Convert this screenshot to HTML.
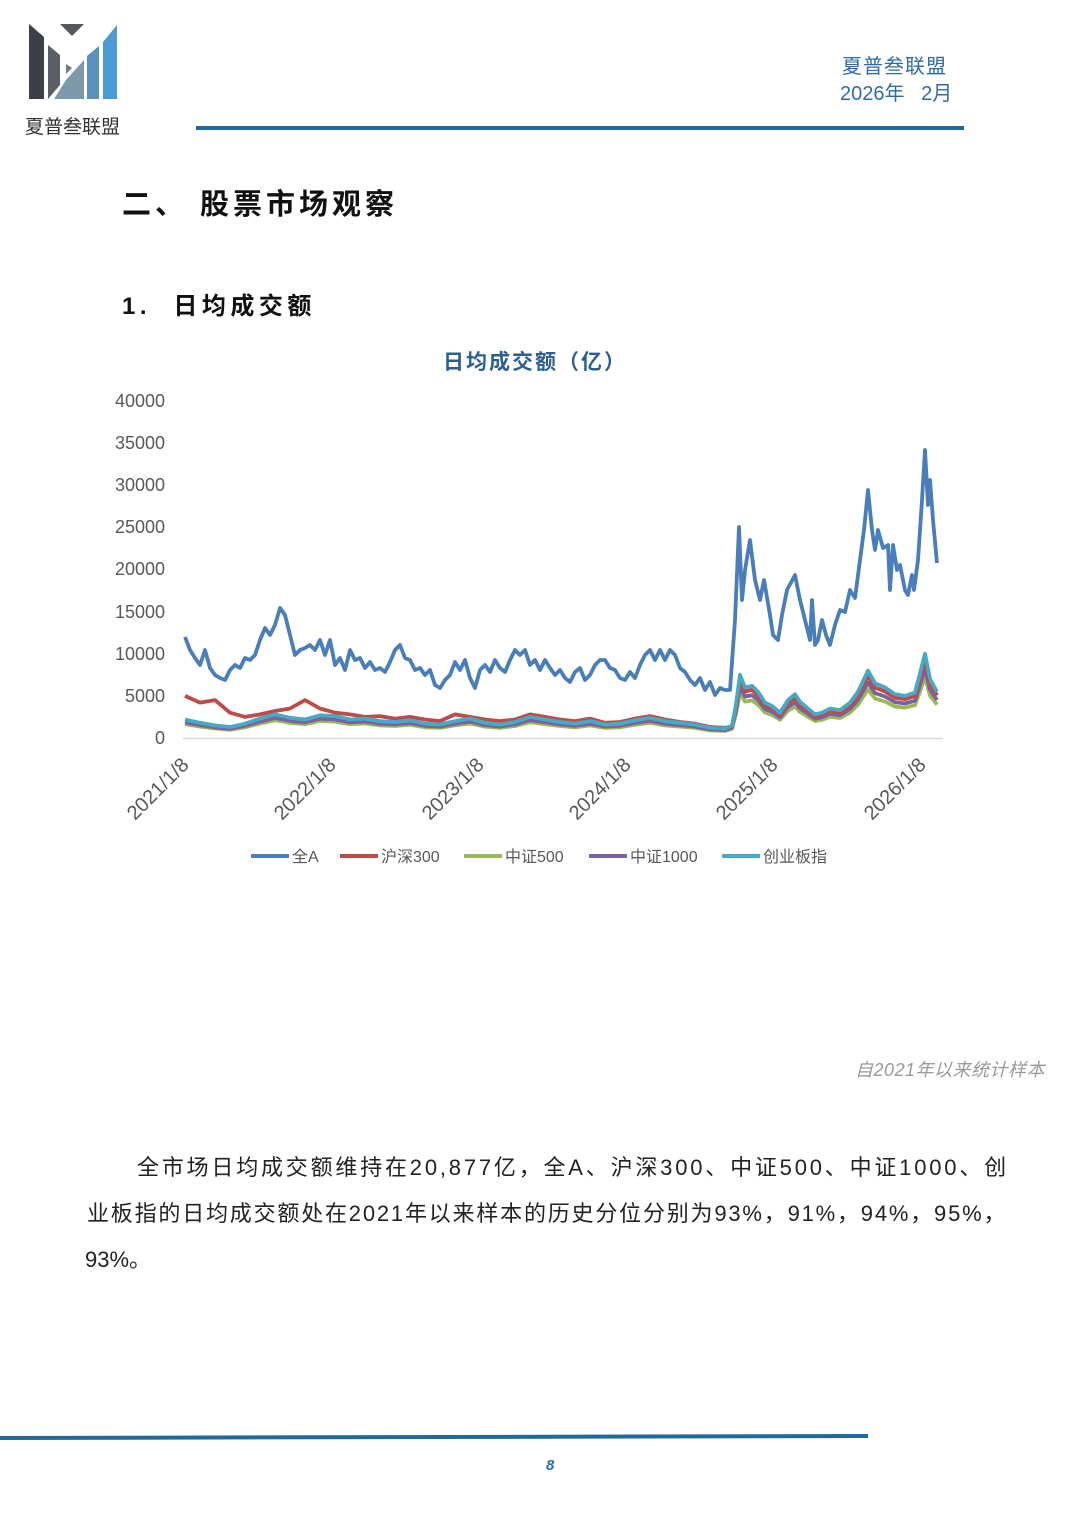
<!DOCTYPE html>
<html><head><meta charset="utf-8"><style>
body{margin:0;background:#fff;}
.p{position:relative;width:1080px;height:1528px;overflow:hidden;font-family:"Liberation Sans","Noto Sans CJK SC",sans-serif;}
.a{position:absolute;white-space:nowrap;}
</style></head><body><div class="p">
<svg class="a" style="left:0;top:0" width="1080" height="1528">
<polygon points="29,24 44,37 44,99 29,99" fill="#3a3f4a"/>
<polygon points="60,24 84,24 72,36" fill="#545860"/>
<polygon points="48,45 60,55 60,85 48,99" fill="#5a5e66"/>
<polygon points="66,64 72,68 66,74" fill="#6c7a88"/>
<polygon points="66,80 84,60 84,99 54,99" fill="#7d97ab"/>
<polygon points="87,56 99,46 99,99 87,99" fill="#5b8fbc"/>
<polygon points="103,42 117,25 117,99 103,99" fill="#4a9ad6"/>
<line x1="196" y1="128" x2="964" y2="128" stroke="#1f6a9a" stroke-width="4"/>
<line x1="0" y1="1438" x2="868" y2="1436" stroke="#1f6a9a" stroke-width="4"/>
<line x1="183" y1="738.5" x2="943" y2="738.5" stroke="#d9d9d9" stroke-width="1.5"/>
<g font-size="18" fill="#595959" text-anchor="end" font-family="Liberation Sans,sans-serif">
<text x="165" y="407">40000</text><text x="165" y="449">35000</text><text x="165" y="491">30000</text>
<text x="165" y="533">25000</text><text x="165" y="575">20000</text><text x="165" y="618">15000</text>
<text x="165" y="660">10000</text><text x="165" y="702">5000</text><text x="165" y="744">0</text>
</g>
<g font-size="20" fill="#595959" text-anchor="end" font-family="Liberation Sans,sans-serif">
<text transform="translate(190,766) rotate(-45)">2021/1/8</text>
<text transform="translate(337,766) rotate(-45)">2022/1/8</text>
<text transform="translate(485,766) rotate(-45)">2023/1/8</text>
<text transform="translate(632,766) rotate(-45)">2024/1/8</text>
<text transform="translate(779,766) rotate(-45)">2025/1/8</text>
<text transform="translate(927,766) rotate(-45)">2026/1/8</text>
</g>
<g id="series" fill="none" stroke-width="3.8" stroke-linejoin="round"></g>
<g stroke-width="4">
<line x1="251" y1="856" x2="289" y2="856" stroke="#4a7ebb"/>
<line x1="340" y1="856" x2="378" y2="856" stroke="#be4b48"/>
<line x1="464" y1="856" x2="502" y2="856" stroke="#98b954"/>
<line x1="589" y1="856" x2="627" y2="856" stroke="#7d60a0"/>
<line x1="722" y1="856" x2="760" y2="856" stroke="#46aac5"/>
</g>
<g font-size="16" fill="#595959">
<text x="292" y="862">全A</text><text x="381" y="862">沪深300</text><text x="505" y="862">中证500</text>
<text x="630" y="862">中证1000</text><text x="763" y="862">创业板指</text>
</g>
</svg>
<div class="a" style="left:25px;top:112px;font-size:19px;color:#333;">夏普叁联盟</div>
<div class="a" style="left:842px;top:50px;font-size:20px;color:#2e6ca6;letter-spacing:1px;">夏普叁联盟</div>
<div class="a" style="left:840px;top:77px;font-size:20px;color:#2e6ca6;">2026年&nbsp;&nbsp;&nbsp;2月</div>
<div class="a" style="left:122px;top:181px;font-size:29px;font-weight:bold;color:#111;letter-spacing:4px;">二、&nbsp;股票市场观察</div>
<div class="a" style="left:122px;top:286px;font-size:24px;font-weight:bold;color:#111;letter-spacing:4.5px;">1.&nbsp;&nbsp;日均成交额</div>
<div class="a" style="left:443px;top:346px;font-size:21px;font-weight:bold;color:#2f5f8e;letter-spacing:2px;">日均成交额（亿）</div>
<div class="a" style="left:855px;top:1056px;font-size:18px;font-style:italic;color:#999;letter-spacing:0.5px;">自2021年以来统计样本</div>
<div class="a" style="left:137px;top:1150px;font-size:22px;color:#222;letter-spacing:2.8px;">全市场日均成交额维持在20,877亿，全A、沪深300、中证500、中证1000、创</div>
<div class="a" style="left:87px;top:1196px;font-size:22px;color:#222;letter-spacing:1.8px;">业板指的日均成交额处在2021年以来样本的历史分位分别为93%，91%，94%，95%，</div>
<div class="a" style="left:85px;top:1242px;font-size:22px;color:#222;">93%。</div>
<div class="a" style="left:546px;top:1457px;font-size:15px;font-style:italic;font-weight:bold;color:#2e6ca6;">8</div>
</div>
<script>
const g=document.getElementById('series');
function add(pts,c){const p=document.createElementNS('http://www.w3.org/2000/svg','polyline');p.setAttribute('points',pts.map(a=>a[0]+','+a[1].toFixed(1)).join(' '));p.setAttribute('stroke',c);g.appendChild(p);}
const Y=v=>738-v*8.425;
const base=[2.2,1.8,1.5,1.3,1.7,2.3,2.8,2.4,2.2,2.7,2.6,2.2,2.3,2.0,1.9,2.1,1.7,1.6,2.0,2.3,1.8,1.6,1.9,2.5,2.2,1.9,1.7,2.0,1.6,1.7,2.1,2.4,2.0,1.8,1.6,1.2,1.1];
const redPre=[5,4.2,4.5,3,2.5,2.8,3.2,3.5,4.5,3.5,3,2.8,2.5,2.6,2.3,2.5,2.2,2.0,2.8,2.5,2.2,2.0,2.2,2.8,2.5,2.2,2.0,2.3,1.8,1.9,2.3,2.6,2.2,1.9,1.7,1.3,1.2];
const post=[[732,1.5],[736,4],[740,7.5],[745,6],[752,6.2],[758,5.5],[765,4.2],[772,3.8],[780,3.0],[788,4.5],[795,5.2],[800,4.3],[808,3.5],[815,2.8],[822,3.0],[830,3.5],[840,3.3],[850,4.2],[858,5.5],[868,8.0],[875,6.5],[885,6.0],[895,5.2],[905,5.0],[915,5.4],[925,10.0],[930,7.0],[937,5.5]];
function ser(pre,m){const a=pre.map((v,i)=>[185+15*i,Y(v)]);post.forEach(([x,v])=>a.push([x,Y(v*m)]));return a;}
const blue=[[185,637],[190,650],[195,658],[200,665],[205,650],[210,668],[215,675],[220,678],[225,680],[230,670],[235,665],[240,668],[245,658],[250,660],[255,655],[260,640],[265,628],[270,635],[275,625],[280,608],[285,615],[290,635],[295,655],[300,650],[305,648],[310,645],[315,650],[320,640],[325,655],[330,640],[335,665],[340,658],[345,670],[350,650],[355,660],[360,658],[365,668],[370,662],[375,670],[380,668],[385,672],[390,662],[395,650],[400,645],[405,658],[410,660],[415,670],[420,668],[425,675],[430,670],[435,685],[440,688],[445,680],[450,675],[455,662],[460,670],[465,660],[470,678],[475,688],[480,670],[485,665],[490,672],[495,660],[500,668],[505,672],[510,660],[515,650],[520,655],[525,650],[530,665],[535,660],[540,670],[545,660],[550,668],[555,675],[560,670],[565,678],[570,682],[575,672],[580,668],[585,680],[590,675],[595,665],[600,660],[605,660],[610,668],[615,670],[620,678],[625,680],[630,672],[635,678],[640,665],[645,655],[650,650],[655,660],[660,650],[665,660],[670,650],[675,655],[680,668],[685,672],[690,680],[695,685],[700,678],[705,690],[710,682],[715,695],[720,688],[725,690],[730,690],[735,620],[739,527],[742,600],[745,570],[750,540],[755,580],[760,600],[764,580],[770,615],[773,635],[778,640],[782,615],[787,590],[795,575],[800,600],[805,620],[810,640],[812,600],[815,645],[818,640],[822,620],[826,635],[830,645],[835,625],[840,610],[845,612],[850,590],[855,598],[860,560],[864,530],[868,490],[872,530],[875,550],[878,530],[883,548],[888,545],[890,590],[893,545],[897,570],[900,565],[905,590],[908,595],[912,575],[914,590],[918,560],[922,500],[925,450],[928,505],[930,480],[933,520],[937,563]];
add(ser(base.map(v=>v*0.75),0.72),'#98b954');
add(ser(base.map(v=>v*0.85),0.82),'#7d60a0');
add(ser(redPre,0.92),'#be4b48');
add(ser(base,1),'#46aac5');
add(blue,'#4a7ebb');
</script>
</body></html>
